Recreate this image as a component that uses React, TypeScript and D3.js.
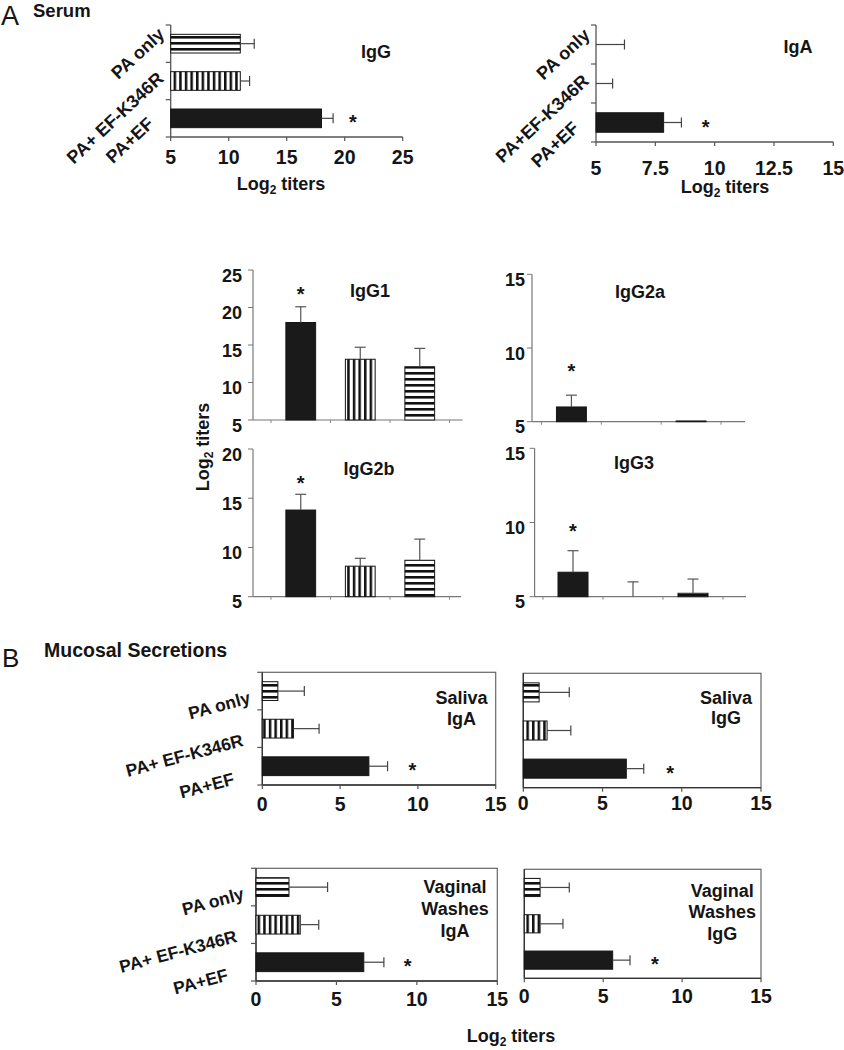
import { useEffect, useRef } from 'react'
import * as d3 from 'd3'

const FONT = '"Liberation Sans", Arial, Helvetica, sans-serif'
const AXIS = '#555'
const INK = '#151515'

// group order used by every series: PA+EF, PA+EF-K346R, PA only
const groupsSerumIgG = ['PA+EF', 'PA+ EF-K346R', 'PA only']
const groupsSerumIgA = ['PA+EF', 'PA+EF-K346R', 'PA only']
const groupsMucosal = ['PA+EF', 'PA+ EF-K346R', 'PA only']
const fills = ['url(#solid)', 'url(#vstripe)', 'url(#hstripe)']

// Serum, log2 titers (mean, error)
const serumIgG = [18, 11, 11]
const serumIgGErr = [1.0, 0.8, 1.2]
const serumIgA = [7.85, 5, 5]
const serumIgAErr = [0.75, 0.7, 1.2]

// Serum IgG subclasses
const igg1 = [18, 13.1, 12.1]
const igg1Err = [2.1, 1.6, 2.45]
const igg2a = [6, 5, 5.05]
const igg2aErr = [0.8, 0, 0]
const igg2b = [13.8, 8.1, 8.7]
const igg2bErr = [1.6, 0.8, 2.15]
const igg3 = [6.65, 5, 5.23]
const igg3Err = [1.45, 1.0, 0.96]

// Mucosal secretions
const salivaIgA = [6.85, 2.0, 1.0]
const salivaIgAErr = [1.2, 1.65, 1.7]
const salivaIgG = [6.5, 1.5, 1.0]
const salivaIgGErr = [1.1, 1.5, 1.9]
const vaginalIgA = [6.7, 2.75, 2.05]
const vaginalIgAErr = [1.25, 1.15, 2.4]
const vaginalIgG = [5.6, 1.0, 1.0]
const vaginalIgGErr = [1.1, 1.45, 1.85]

// axis ticks
const ticksSerumIgG = [5, 10, 15, 20, 25]
const ticksSerumIgA = [5, 7.5, 10, 12.5, 15]
const ticks25 = [5, 10, 15, 20, 25]
const ticks20 = [5, 10, 15, 20]
const ticks15 = [5, 10, 15]
const ticksMucosal = [0, 5, 10, 15]

const SIZE = 18

function addText(g, x, y, str, size, anchor = 'middle', weight = 'bold') {
  return g.append('text')
    .attr('x', x).attr('y', y)
    .attr('text-anchor', anchor)
    .attr('font-family', FONT)
    .attr('font-weight', weight)
    .attr('font-size', size)
    .attr('fill', INK)
    .text(str)
}

function log2Label(g, x, y, rotate = 0) {
  const t = g.append('text')
    .attr('text-anchor', 'middle')
    .attr('font-family', FONT)
    .attr('font-weight', 'bold')
    .attr('font-size', SIZE)
    .attr('fill', INK)
    .attr('transform', `translate(${x},${y}) rotate(${rotate})`)
  t.append('tspan').text('Log')
  t.append('tspan').attr('dy', 4).attr('font-size', 12).text('2')
  t.append('tspan').attr('dy', -4).text(' titers')
}

// horizontal bars: categories stacked top (PA only) to bottom (PA+EF)
function drawHBars(svg, cfg) {
  const g = svg.append('g')
  const x = d3.scaleLinear().domain(cfg.domain).range([cfg.x0, cfg.x1])
  const y = d3.scaleBand().domain([0, 1, 2]).range([cfg.yBottom, cfg.yTop])
    .paddingInner(0.5).paddingOuter(0.25)
  const step = (cfg.yBottom - cfg.yTop) / 3
  const base = cfg.domain[0]

  if (cfg.box) {
    g.append('rect')
      .attr('x', cfg.x0).attr('y', cfg.yTop)
      .attr('width', cfg.x1 - cfg.x0).attr('height', cfg.yBottom - cfg.yTop)
      .attr('fill', 'none').attr('stroke', '#666').attr('stroke-width', 1.2)
  }
  g.append('line').attr('x1', cfg.x0).attr('x2', cfg.x0).attr('y1', cfg.yTop).attr('y2', cfg.yBottom)
    .attr('stroke', cfg.box ? '#333' : AXIS).attr('stroke-width', 1.3)
  g.append('line').attr('x1', cfg.x0).attr('x2', cfg.x1).attr('y1', cfg.yBottom).attr('y2', cfg.yBottom)
    .attr('stroke', cfg.box ? '#333' : AXIS).attr('stroke-width', 1.3)

  if (cfg.catTicks) {
    d3.range(4).forEach(k => {
      const yy = cfg.yTop + k * step
      g.append('line').attr('x1', cfg.x0 - 5).attr('x2', cfg.x0).attr('y1', yy).attr('y2', yy)
        .attr('stroke', AXIS).attr('stroke-width', 1.2)
    })
  }

  cfg.ticks.forEach(t => {
    g.append('line').attr('x1', x(t)).attr('x2', x(t)).attr('y1', cfg.yBottom).attr('y2', cfg.yBottom + 4)
      .attr('stroke', AXIS).attr('stroke-width', 1.2)
    addText(g, x(t), cfg.tickLabelY, String(t), 19.5)
  })

  cfg.values.forEach((v, i) => {
    const top = y(i)
    const h = y.bandwidth()
    const cy = top + h / 2
    if (v > base) {
      g.append('rect')
        .attr('x', x(base)).attr('y', top)
        .attr('width', x(v) - x(base)).attr('height', h)
        .attr('fill', fills[i]).attr('stroke', INK).attr('stroke-width', 1)
    }
    const e = cfg.errs[i]
    if (e > 0) {
      g.append('line').attr('x1', x(v)).attr('x2', x(v + e)).attr('y1', cy).attr('y2', cy)
        .attr('stroke', '#444').attr('stroke-width', 1.2)
      g.append('line').attr('x1', x(v + e)).attr('x2', x(v + e)).attr('y1', cy - 5).attr('y2', cy + 5)
        .attr('stroke', '#444').attr('stroke-width', 1.2)
    }
  })

  const cy0 = y(0) + y.bandwidth() / 2
  addText(g, x(cfg.star), cy0 + 11, '*', 20)

  cfg.title.forEach((line, k) => addText(g, cfg.titleX, cfg.titleY + k * cfg.titleGap, line, SIZE))

  if (cfg.labels) {
    cfg.labels.forEach((lab, i) => {
      const cy = y(i) + y.bandwidth() / 2
      const [dx, dy] = cfg.labelOffsets[i]
      g.append('text')
        .attr('text-anchor', 'end')
        .attr('font-family', FONT)
        .attr('font-weight', 'bold')
        .attr('font-size', cfg.labelSize)
        .attr('fill', INK)
        .attr('transform', `translate(${cfg.x0 + dx},${cy + dy}) rotate(${cfg.labelAngle})`)
        .text(lab)
    })
  }
}

// vertical bars for the IgG subclass panels
function drawVBars(svg, cfg) {
  const g = svg.append('g')
  const y = d3.scaleLinear().domain(cfg.domain).range([cfg.yBottom, cfg.yTop])
  const x = d3.scaleBand().domain([0, 1, 2]).range([cfg.bandStart, cfg.bandEnd])
    .paddingInner(0.5).paddingOuter(0.25)
  const step = (cfg.bandEnd - cfg.bandStart) / 3
  const base = cfg.domain[0]

  g.append('line').attr('x1', cfg.x0).attr('x2', cfg.x0).attr('y1', cfg.yTop).attr('y2', cfg.yBottom)
    .attr('stroke', '#777').attr('stroke-width', 1.2)
  g.append('line').attr('x1', cfg.x0).attr('x2', cfg.axisEnd).attr('y1', cfg.yBottom).attr('y2', cfg.yBottom)
    .attr('stroke', '#777').attr('stroke-width', 1.2)

  cfg.ticks.forEach(t => {
    g.append('line').attr('x1', cfg.x0 - 5).attr('x2', cfg.x0).attr('y1', y(t)).attr('y2', y(t))
      .attr('stroke', '#777').attr('stroke-width', 1)
    addText(g, cfg.labelRight, y(t) + 11.5, String(t), SIZE, 'end')
  })
  d3.range(4).forEach(k => {
    const xx = cfg.bandStart + k * step
    g.append('line').attr('x1', xx).attr('x2', xx).attr('y1', cfg.yBottom).attr('y2', cfg.yBottom + 3)
      .attr('stroke', '#888').attr('stroke-width', 1)
  })

  cfg.values.forEach((v, i) => {
    const left = x(i)
    const w = x.bandwidth()
    const cx = left + w / 2
    if (v > base) {
      g.append('rect')
        .attr('x', left).attr('y', y(v))
        .attr('width', w).attr('height', y(base) - y(v))
        .attr('fill', fills[i]).attr('stroke', INK).attr('stroke-width', 1)
    }
    const e = cfg.errs[i]
    if (e > 0) {
      g.append('line').attr('x1', cx).attr('x2', cx).attr('y1', y(v)).attr('y2', y(v + e))
        .attr('stroke', '#555').attr('stroke-width', 1.2)
      g.append('line').attr('x1', cx - 5.5).attr('x2', cx + 5.5).attr('y1', y(v + e)).attr('y2', y(v + e))
        .attr('stroke', '#555').attr('stroke-width', 1.2)
    }
  })

  addText(g, x(0) + x.bandwidth() / 2, y(cfg.star) + 11, '*', 20)
  addText(g, cfg.titleX, cfg.titleY, cfg.title, SIZE)
}

function App() {
  const svgRef = useRef(null)

  useEffect(() => {
    const svg = d3.select(svgRef.current)
    svg.selectAll('*').remove()

    const defs = svg.append('defs')
    const solid = defs.append('pattern').attr('id', 'solid')
      .attr('patternUnits', 'userSpaceOnUse').attr('width', 4).attr('height', 4)
    solid.append('rect').attr('width', 4).attr('height', 4).attr('fill', '#1a1a1a')
    const hs = defs.append('pattern').attr('id', 'hstripe')
      .attr('patternUnits', 'userSpaceOnUse').attr('width', 8).attr('height', 6)
    hs.append('rect').attr('width', 8).attr('height', 6).attr('fill', '#fff')
    hs.append('rect').attr('width', 8).attr('height', 2.6).attr('fill', '#111')
    const vs = defs.append('pattern').attr('id', 'vstripe')
      .attr('patternUnits', 'userSpaceOnUse').attr('width', 5.6).attr('height', 8)
    vs.append('rect').attr('width', 5.6).attr('height', 8).attr('fill', '#fff')
    vs.append('rect').attr('width', 2.5).attr('height', 8).attr('fill', '#111')

    // ── Panel A: serum ───────────────────────────────────────────────
    addText(svg, 1, 25, 'A', 27, 'start', 'normal')
    addText(svg, 33, 17, 'Serum', 18.5, 'start')

    const serumLabelOffsets = [[-16, 7], [-6, -1], [-5, -8]]
    drawHBars(svg, {
      x0: 170.7, x1: 402.7, domain: [5, 25], ticks: ticksSerumIgG,
      yTop: 25, yBottom: 137, tickLabelY: 164,
      values: serumIgG, errs: serumIgGErr, star: 20.7,
      title: ['IgG'], titleX: 376, titleY: 57.5, titleGap: 0,
      catTicks: true, box: false,
      labels: groupsSerumIgG, labelOffsets: serumLabelOffsets, labelAngle: -43, labelSize: 18,
    })
    log2Label(svg, 281, 190)

    drawHBars(svg, {
      x0: 596, x1: 833.3, domain: [5, 15], ticks: ticksSerumIgA,
      yTop: 25, yBottom: 142, tickLabelY: 175,
      values: serumIgA, errs: serumIgAErr, star: 9.62,
      title: ['IgA'], titleX: 798, titleY: 53, titleGap: 0,
      catTicks: true, box: false,
      labels: groupsSerumIgA, labelOffsets: serumLabelOffsets, labelAngle: -43, labelSize: 18,
    })
    log2Label(svg, 725, 193)

    // ── Serum IgG subclasses ─────────────────────────────────────────
    drawVBars(svg, {
      x0: 253, yTop: 270, yBottom: 420, domain: [5, 25], ticks: ticks25,
      bandStart: 271, bandEnd: 449.5, axisEnd: 462.7, labelRight: 242,
      values: igg1, errs: igg1Err, star: 22.3, title: 'IgG1', titleX: 370, titleY: 296.5,
    })
    drawVBars(svg, {
      x0: 532, yTop: 274.3, yBottom: 421.7, domain: [5, 15], ticks: ticks15,
      bandStart: 541.5, bandEnd: 721, axisEnd: 745, labelRight: 525,
      values: igg2a, errs: igg2aErr, star: 8.73, title: 'IgG2a', titleX: 640, titleY: 298,
    })
    drawVBars(svg, {
      x0: 253, yTop: 449, yBottom: 596.7, domain: [5, 20], ticks: ticks20,
      bandStart: 271, bandEnd: 449.5, axisEnd: 461, labelRight: 242,
      values: igg2b, errs: igg2bErr, star: 17.0, title: 'IgG2b', titleX: 369, titleY: 475,
    })
    drawVBars(svg, {
      x0: 534.6, yTop: 448.3, yBottom: 596.7, domain: [5, 15], ticks: ticks15,
      bandStart: 543, bandEnd: 723, axisEnd: 746, labelRight: 525,
      values: igg3, errs: igg3Err, star: 9.72, title: 'IgG3', titleX: 634, titleY: 469,
    })
    log2Label(svg, 209, 447, -90)

    // ── Panel B: mucosal secretions ──────────────────────────────────
    addText(svg, 2, 667, 'B', 26, 'start', 'normal')
    addText(svg, 44, 656.5, 'Mucosal Secretions', 19.5, 'start')

    const mucosalLabelOffsets = [[-27, 18], [-18, 17], [-11, 12]]
    drawHBars(svg, {
      x0: 262.3, x1: 495.7, domain: [0, 15], ticks: ticksMucosal,
      yTop: 672.3, yBottom: 785, tickLabelY: 810.5,
      values: salivaIgA, errs: salivaIgAErr, star: 9.64,
      title: ['Saliva', 'IgA'], titleX: 461.5, titleY: 703.5, titleGap: 21,
      catTicks: true, box: true,
      labels: groupsMucosal, labelOffsets: mucosalLabelOffsets, labelAngle: -15, labelSize: 17.5,
    })
    drawHBars(svg, {
      x0: 523.3, x1: 761, domain: [0, 15], ticks: ticksMucosal,
      yTop: 673.3, yBottom: 787.7, tickLabelY: 809.5,
      values: salivaIgG, errs: salivaIgGErr, star: 9.26,
      title: ['Saliva', 'IgG'], titleX: 726, titleY: 703.5, titleGap: 20.5,
      catTicks: false, box: true,
    })
    drawHBars(svg, {
      x0: 256, x1: 497.3, domain: [0, 15], ticks: ticksMucosal,
      yTop: 868.3, yBottom: 981, tickLabelY: 1005.5,
      values: vaginalIgA, errs: vaginalIgAErr, star: 9.43,
      title: ['Vaginal', 'Washes', 'IgA'], titleX: 455, titleY: 893, titleGap: 21.8,
      catTicks: true, box: true,
      labels: groupsMucosal, labelOffsets: mucosalLabelOffsets, labelAngle: -15, labelSize: 17.5,
    })
    drawHBars(svg, {
      x0: 524.3, x1: 761, domain: [0, 15], ticks: ticksMucosal,
      yTop: 869.3, yBottom: 978.3, tickLabelY: 1003,
      values: vaginalIgG, errs: vaginalIgGErr, star: 8.28,
      title: ['Vaginal', 'Washes', 'IgG'], titleX: 722.3, titleY: 896.7, titleGap: 21.7,
      catTicks: false, box: true,
    })
    log2Label(svg, 511, 1042)
  }, [])

  return (
    <svg
      ref={svgRef}
      width={844}
      height={1050}
      style={{ position: 'absolute', left: 0, top: 0, background: '#fff', display: 'block' }}
    />
  )
}

export default App
